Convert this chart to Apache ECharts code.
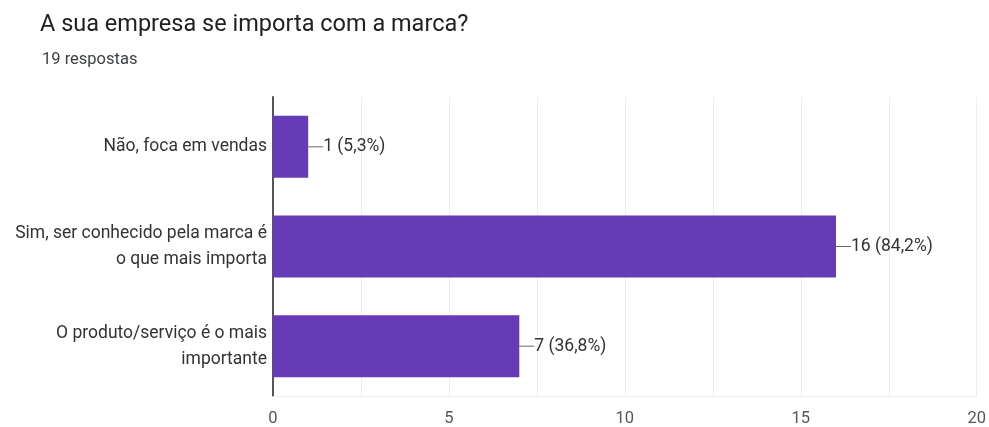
<!DOCTYPE html>
<html>
<head>
<meta charset="utf-8">
<script src="https://cdn.jsdelivr.net/npm/echarts@6/dist/echarts.min.js"></script>
<style>
  html, body { margin: 0; padding: 0; background: #fff; }
  #chart { width: 989px; height: 427px; }
</style>
</head>
<body>
<div id="chart"></div>
<script>
// Survey answers and response counts
const categories = [
  'Não, foca em vendas',
  'Sim, ser conhecido pela marca é\no que mais importa',
  'O produto/serviço é o mais\nimportante'
];
const counts = [1, 16, 7];
const percentLabels = ['5,3%', '84,2%', '36,8%'];
const xTicks = [0, 5, 10, 15, 20];

const FONT = 'Roboto, "Liberation Sans", Arial, sans-serif';

const chart = echarts.init(document.getElementById('chart'), null, { renderer: 'canvas' });

chart.setOption({
  backgroundColor: '#ffffff',
  animation: false,
  title: [
    {
      text: 'A sua empresa se importa com a marca?',
      left: 35, top: 8,
      textStyle: { fontFamily: FONT, fontSize: 23.5, fontWeight: 'normal', color: '#202124' }
    },
    {
      text: '19 respostas',
      left: 37, top: 46,
      textStyle: { fontFamily: FONT, fontSize: 16.5, fontWeight: 'normal', color: '#3c4043' }
    }
  ],
  grid: { left: 273, right: 12, top: 97, bottom: 27, containLabel: false },
  xAxis: {
    type: 'value',
    min: 0, max: 20, interval: 2.5,
    axisLine: { show: true, lineStyle: { color: '#eeeeee', width: 1 } },
    axisTick: { show: false },
    splitLine: { show: true, lineStyle: { color: '#eeeeee', width: 1 } },
    axisLabel: {
      margin: 14,
      fontFamily: FONT, fontSize: 16.5, color: '#555',
      formatter: function (v) { return xTicks.indexOf(v) >= 0 ? String(v) : ''; }
    }
  },
  yAxis: {
    type: 'category',
    data: categories,
    inverse: true,
    axisLine: { show: true, lineStyle: { color: '#555', width: 2 } },
    axisTick: { show: false },
    splitLine: { show: false },
    axisLabel: {
      margin: 6,
      fontFamily: FONT, fontSize: 17.5, color: '#333', lineHeight: 26, align: 'right'
    }
  },
  series: [{
    type: 'bar',
    data: counts,
    barWidth: 62,
    itemStyle: { color: '#673ab7' },
    label: {
      show: true,
      position: 'right',
      distance: 0,
      fontFamily: FONT, fontSize: 17.5, color: '#333',
      formatter: function (p) {
        return '{lead|}' + p.value + ' (' + percentLabels[p.dataIndex] + ')';
      },
      rich: {
        lead: { width: 15, height: 1, backgroundColor: '#666' }
      }
    }
  }]
});
</script>
</body>
</html>
